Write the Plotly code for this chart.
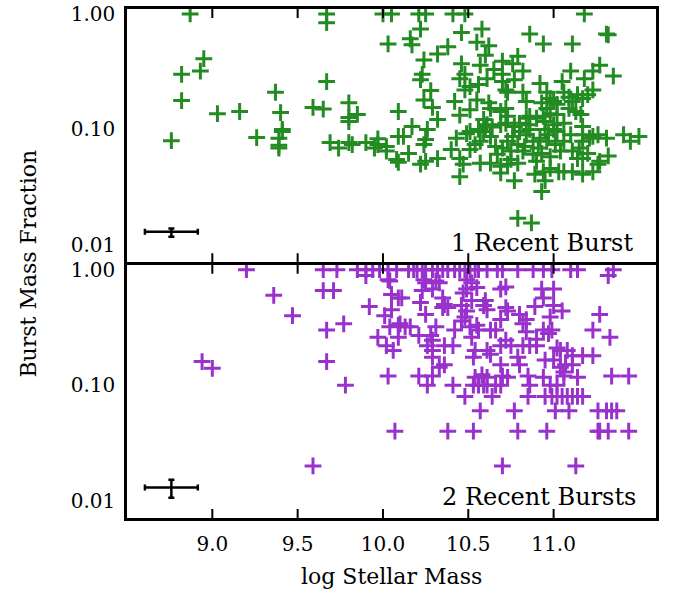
import math
import plotly.graph_objects as go

# ---------------- data ----------------
# Panel 1: galaxies with one recent burst
one_burst_mass = [
    8.87, 9.67, 9.67, 10.00, 10.05, 10.03, 8.95, 8.93, 8.82, 8.82,
    9.37, 9.67, 9.03, 9.16, 9.40, 9.59, 9.65, 9.80, 9.80, 9.85,
    10.09, 9.41, 8.76, 9.26, 9.41, 9.39, 9.39, 9.39, 9.69, 9.74,
    9.80, 9.82, 9.90, 9.97, 9.97, 9.95, 10.02, 10.02, 10.08, 10.09,
    9.80, 10.21, 10.25, 10.41, 10.48, 11.18, 10.22, 10.16, 10.17, 10.46,
    10.58, 10.55, 10.62, 10.86, 10.94, 11.11, 11.31, 11.32, 10.32, 10.38,
    10.60, 10.24, 10.46, 10.57, 10.70, 10.76, 10.79, 10.65, 10.82, 10.23,
    10.22, 10.48, 10.45, 10.51, 10.48, 10.56, 10.61, 10.70, 10.70, 10.77,
    10.72, 10.73, 10.28, 10.24, 10.29, 10.42, 10.45, 10.51, 10.55, 10.62,
    10.63, 10.69, 10.72, 10.73, 10.82, 10.84, 10.92, 10.96, 10.98, 11.00,
    11.02, 11.05, 11.10, 11.06, 11.09, 11.11, 11.14, 11.17, 11.20, 11.23,
    11.18, 11.23, 11.27, 11.35, 10.93, 10.96, 10.98, 11.02, 10.94, 10.86,
    10.90, 11.09, 11.13, 11.16, 10.32, 10.17, 10.26, 10.59, 10.61, 10.69,
    10.72, 10.80, 10.84, 10.86, 10.95, 11.00, 11.06, 11.17, 10.12, 10.25,
    10.24, 10.09, 10.15, 10.22, 10.25, 10.32, 10.43, 10.49, 10.56, 10.60,
    10.64, 10.40, 10.45, 10.51, 10.54, 10.57, 10.59, 10.63, 10.47, 10.57,
    10.63, 10.69, 10.45, 10.67, 10.70, 10.73, 10.76, 10.79, 10.82, 10.84,
    10.86, 10.69, 10.73, 10.75, 10.77, 10.79, 10.88, 10.91, 10.88, 10.90,
    10.93, 10.96, 10.97, 11.00, 11.01, 10.89, 10.94, 10.98, 11.03, 10.93,
    10.95, 10.79, 10.87, 11.06, 11.10, 11.11, 11.15, 11.17, 11.17, 11.21,
    11.20, 11.17, 11.14, 11.06, 11.11, 11.17, 11.23, 11.26, 11.27, 11.32,
    11.23, 11.26, 11.31, 11.41, 11.45, 11.50, 11.02, 10.80, 10.83, 10.92,
    10.95, 11.04, 10.77, 10.66, 10.51, 10.75, 10.98,
]
one_burst_frac = [
    1.0, 1.0, 0.84, 1.0, 1.0, 0.55, 0.41, 0.32, 0.30, 0.178,
    0.21, 0.26, 0.137, 0.143, 0.14, 0.155, 0.15, 0.17, 0.127, 0.135,
    0.143, 0.10, 0.08, 0.085, 0.096, 0.084, 0.073, 0.069, 0.077, 0.069,
    0.077, 0.074, 0.077, 0.083, 0.074, 0.069, 0.071, 0.065, 0.055, 0.087,
    0.117, 1.0, 1.0, 1.0, 1.0, 1.0, 0.74, 0.61, 0.54, 0.69,
    0.74, 0.57, 0.53, 0.67, 0.55, 0.55, 0.67, 0.66, 0.45, 0.52,
    0.44, 0.40, 0.37, 0.36, 0.39, 0.37, 0.43, 0.33, 0.32, 0.30,
    0.27, 0.30, 0.275, 0.235, 0.22, 0.245, 0.275, 0.30, 0.26, 0.27,
    0.22, 0.21, 0.217, 0.18, 0.155, 0.175, 0.133, 0.148, 0.18, 0.17,
    0.152, 0.143, 0.152, 0.13, 0.21, 0.175, 0.25, 0.21, 0.185, 0.175,
    0.165, 0.26, 0.32, 0.21, 0.19, 0.175, 0.20, 0.185, 0.20, 0.22,
    0.275, 0.32, 0.36, 0.29, 0.17, 0.152, 0.137, 0.135, 0.13, 0.13,
    0.125, 0.152, 0.143, 0.135, 0.122, 0.106, 0.10, 0.122, 0.11, 0.11,
    0.113, 0.113, 0.125, 0.11, 0.117, 0.11, 0.113, 0.106, 0.087, 0.082,
    0.074, 0.052, 0.062, 0.050, 0.053, 0.056, 0.084, 0.092, 0.10, 0.106,
    0.105, 0.067, 0.056, 0.067, 0.074, 0.079, 0.096, 0.087, 0.050, 0.051,
    0.051, 0.048, 0.039, 0.061, 0.069, 0.079, 0.087, 0.074, 0.065, 0.09,
    0.10, 0.042, 0.050, 0.055, 0.036, 0.051, 0.079, 0.069, 0.061, 0.053,
    0.062, 0.079, 0.09, 0.10, 0.074, 0.041, 0.043, 0.046, 0.043, 0.029,
    0.036, 0.017, 0.0155, 0.079, 0.09, 0.065, 0.069, 0.079, 0.09, 0.084,
    0.062, 0.056, 0.056, 0.043, 0.043, 0.041, 0.043, 0.050, 0.053, 0.059,
    0.087, 0.09, 0.084, 0.09, 0.079, 0.087, 0.096, 0.096, 0.071, 0.084,
    0.10, 0.065, 0.106, 0.071, 0.096, 0.065, 0.058,
]

# Panel 2: galaxies with two recent bursts
two_burst_mass = [
    9.20, 9.65, 9.73, 9.85, 9.90, 9.90, 9.94, 9.98, 10.03, 10.08,
    10.03, 9.65, 9.71, 9.36, 10.05, 10.09, 9.92, 10.05, 10.01, 9.47,
    9.77, 9.67, 10.04, 10.09, 9.97, 10.09, 10.02, 10.06, 8.94, 9.00,
    9.67, 10.03, 9.78, 10.07, 9.59,
    10.15, 10.18, 10.20, 10.23, 10.25, 10.29, 10.32, 10.35, 10.38, 10.42,
    10.45, 10.48, 10.51, 10.54, 10.56, 10.61, 10.67, 10.70, 10.79, 10.88,
    10.94, 10.99, 11.10, 11.14, 11.35,
    11.32, 10.24, 10.25, 10.31, 10.33, 10.49, 10.52, 10.49, 10.55, 10.04,
    10.23, 10.29, 10.47, 10.69, 10.72, 10.93, 11.00, 10.94, 10.11, 10.22,
    10.25, 10.35, 10.36, 10.35, 10.38, 10.46, 10.49, 10.52, 10.60, 10.61,
    10.59, 10.72, 10.73, 10.69, 10.89, 11.00, 11.05, 11.27, 10.46, 10.48,
    10.80, 10.84, 10.82, 10.98, 10.10, 10.13, 10.16, 10.31, 10.42, 10.51,
    10.55, 10.56, 10.52, 10.63, 10.66, 10.94, 10.99, 10.84, 10.90, 10.97,
    11.23, 11.33, 10.21, 10.28, 10.29, 10.26, 10.29, 10.36, 10.41, 10.54,
    10.61, 10.63, 10.69, 10.72, 10.75, 10.82, 10.86, 10.90, 11.02, 11.04,
    11.08, 11.11, 11.17, 11.23, 10.29, 10.36, 10.33, 10.53, 10.69, 10.79,
    10.80, 10.95, 11.00, 11.04, 11.07, 11.11, 11.06, 10.21, 10.29, 10.54,
    10.58, 10.61, 10.70, 10.73, 10.85, 10.94, 11.06, 11.14, 11.34, 11.44,
    10.26, 10.41, 10.53, 10.56, 10.59, 10.61, 10.66, 10.69, 10.86, 10.98, 11.02,
    10.48, 10.64, 10.85, 10.95, 10.99, 11.02, 11.05, 11.08, 11.11, 11.14, 11.17,
    10.57, 10.77, 11.01, 11.09, 11.26, 11.31, 11.34, 11.37,
    10.38, 10.53, 10.79, 10.96, 11.26, 11.27, 11.32, 11.44,
    10.70, 11.13,
]
two_burst_frac = [
    1.0, 1.0, 1.0, 1.0, 1.0, 0.89, 1.0, 1.0, 1.0, 1.0,
    0.82, 0.66, 0.66, 0.60, 0.61, 0.57, 0.48, 0.45, 0.40, 0.40,
    0.34, 0.30, 0.32, 0.33, 0.26, 0.26, 0.22, 0.20, 0.16, 0.14,
    0.16, 0.12, 0.10, 0.04, 0.02,
    1.0, 1.0, 1.0, 1.0, 1.0, 1.0, 1.0, 1.0, 1.0, 1.0,
    1.0, 1.0, 1.0, 1.0, 1.0, 1.0, 1.0, 1.0, 1.0, 1.0,
    1.0, 1.0, 1.0, 1.0, 1.0,
    0.89, 0.82, 0.77, 0.80, 0.77, 0.82, 0.77, 0.68, 0.70, 0.80,
    0.66, 0.68, 0.63, 0.68, 0.71, 0.68, 0.68, 0.57, 0.57, 0.52,
    0.41, 0.57, 0.50, 0.47, 0.47, 0.49, 0.44, 0.54, 0.54, 0.45,
    0.49, 0.47, 0.44, 0.37, 0.48, 0.49, 0.44, 0.41, 0.36, 0.39,
    0.41, 0.37, 0.34, 0.39, 0.34, 0.32, 0.32, 0.32, 0.30, 0.32,
    0.33, 0.30, 0.26, 0.30, 0.30, 0.30, 0.30, 0.29, 0.25, 0.28,
    0.30, 0.26, 0.27, 0.27, 0.245, 0.22, 0.20, 0.22, 0.22, 0.20,
    0.20, 0.185, 0.22, 0.245, 0.22, 0.22, 0.22, 0.22, 0.21, 0.20,
    0.20, 0.18, 0.18, 0.18, 0.175, 0.15, 0.143, 0.175, 0.15, 0.175,
    0.15, 0.165, 0.165, 0.143, 0.15, 0.15, 0.13, 0.12, 0.12, 0.117,
    0.123, 0.117, 0.12, 0.117, 0.12, 0.117, 0.12, 0.117, 0.12, 0.12,
    0.10, 0.10, 0.10, 0.10, 0.10, 0.10, 0.10, 0.10, 0.10, 0.10, 0.10,
    0.08, 0.08, 0.08, 0.08, 0.08, 0.08, 0.08, 0.08, 0.08, 0.08, 0.08,
    0.06, 0.06, 0.06, 0.06, 0.06, 0.06, 0.06, 0.06,
    0.04, 0.04, 0.04, 0.04, 0.04, 0.04, 0.04, 0.04,
    0.02, 0.02,
]

# Typical uncertainty (error-bar symbol in lower-left corner of each panel)
err_mass = [8.76]
err_frac = [0.013]
err_mass_sigma = [0.155]
err_frac_plus = [0.0009, 0.0022]
err_frac_minus = [0.0012, 0.0024]

panel_labels = ["1 Recent Burst", "2 Recent Bursts"]
x_ticks = [9.0, 9.5, 10.0, 10.5, 11.0]
x_tick_text = ["9.0", "9.5", "10.0", "10.5", "11.0"]
y_ticks = [0.01, 0.1, 1.0]
y_tick_text = ["0.01", "0.10", "1.00"]
y_minor_ticks = [0.02, 0.03, 0.04, 0.05, 0.06, 0.07, 0.08, 0.09,
                 0.2, 0.3, 0.4, 0.5, 0.6, 0.7, 0.8, 0.9]

GREEN = "#228B22"
PURPLE = "#9932CC"
INK = "#000000"
FONT = "DejaVu Serif"
X_RANGE = [8.5, 11.6]
Y_RANGE = [-2.15, 0.043]

W, H = 675, 594
M_L, M_R, M_T, M_B = 127, 19, 9, 76
LW = 2.5
plot_w = W - M_L - M_R
plot_h = H - M_T - M_B
gap = LW / plot_h           # panels' touching frame lines coincide
top_dom = [0.5 + gap / 2, 1.0]
bot_dom = [0.0, 0.5 - gap / 2]
panel_h = plot_h * (0.5 - gap / 2)
MAJOR_LEN, MINOR_LEN, TICK_W = 9, 5, 2

fig = go.Figure()

# top panel -> x / y ; bottom panel -> x2 / y2
fig.add_trace(go.Scatter(
    x=one_burst_mass, y=one_burst_frac, xaxis="x", yaxis="y", mode="markers",
    marker=dict(symbol="cross-thin-open", size=12, color=GREEN,
                line=dict(width=3, color=GREEN)),
    showlegend=False))
fig.add_trace(go.Scatter(
    x=two_burst_mass, y=two_burst_frac, xaxis="x2", yaxis="y2", mode="markers",
    marker=dict(symbol="cross-thin-open", size=12, color=PURPLE,
                line=dict(width=3, color=PURPLE)),
    showlegend=False))

for i, (xa, ya) in enumerate([("x", "y"), ("x2", "y2")]):
    fig.add_trace(go.Scatter(
        x=err_mass, y=err_frac, xaxis=xa, yaxis=ya, mode="markers",
        marker=dict(size=1, color=INK),
        error_x=dict(type="data", array=err_mass_sigma, color=INK,
                     thickness=2.5, width=3),
        error_y=dict(type="data", array=[err_frac_plus[i]],
                     arrayminus=[err_frac_minus[i]],
                     color=INK, thickness=2.5, width=3),
        showlegend=False))

common = dict(showline=True, linecolor=INK, linewidth=LW, mirror=True,
              ticks="", showgrid=False, zeroline=False,
              tickfont=dict(family=FONT, size=20, color=INK))

fig.update_layout(
    template="none",
    width=W, height=H,
    margin=dict(l=M_L, r=M_R, t=M_T, b=M_B),
    paper_bgcolor="white", plot_bgcolor="white",
    font=dict(family=FONT, color=INK),
    xaxis=dict(domain=[0, 1], anchor="y", range=X_RANGE, tickvals=x_ticks,
               ticktext=x_tick_text, showticklabels=False, **common),
    xaxis2=dict(domain=[0, 1], anchor="y2", range=X_RANGE, tickvals=x_ticks,
                ticktext=x_tick_text, ticklabelstandoff=6, **common),
    yaxis=dict(domain=top_dom, anchor="x", type="log", range=Y_RANGE,
               tickvals=y_ticks, ticktext=y_tick_text, ticklabelstandoff=5, **common),
    yaxis2=dict(domain=bot_dom, anchor="x2", type="log", range=Y_RANGE,
                tickvals=y_ticks, ticktext=y_tick_text, ticklabelstandoff=5, **common),
)

# inward tick marks on all four sides of each panel, placed at the tick values
tick_line = dict(color=INK, width=TICK_W)
for xr, yr in [("x", "y"), ("x2", "y2")]:
    fx = MAJOR_LEN / panel_h
    for v in x_ticks:
        fig.add_shape(type="line", xref=xr, yref=yr + " domain",
                      x0=v, x1=v, y0=0, y1=fx, line=tick_line)
        fig.add_shape(type="line", xref=xr, yref=yr + " domain",
                      x0=v, x1=v, y0=1 - fx, y1=1, line=tick_line)
    for vals, length in [(y_ticks, MAJOR_LEN + 1), (y_minor_ticks, MINOR_LEN)]:
        fy = length / plot_w
        for v in vals:
            lv = math.log10(v)
            fig.add_shape(type="line", xref=xr + " domain", yref=yr,
                          x0=0, x1=fy, y0=lv, y1=lv, line=tick_line)
            fig.add_shape(type="line", xref=xr + " domain", yref=yr,
                          x0=1 - fy, x1=1, y0=lv, y1=lv, line=tick_line)

fig.add_annotation(text=panel_labels[0], xref="paper", yref="paper", x=0.96, y=0.541,
                   xanchor="right", yanchor="middle", showarrow=False,
                   font=dict(family=FONT, size=24, color=INK))
fig.add_annotation(text=panel_labels[1], xref="paper", yref="paper", x=0.966, y=0.041,
                   xanchor="right", yanchor="middle", showarrow=False,
                   font=dict(family=FONT, size=24, color=INK))
fig.add_annotation(text="Burst Mass Fraction", xref="paper", yref="paper",
                   x=-0.187, y=0.5, xanchor="center", yanchor="middle",
                   textangle=-90, showarrow=False,
                   font=dict(family=FONT, size=22, color=INK))
fig.add_annotation(text="log Stellar Mass", xref="paper", yref="paper",
                   x=0.5, y=-0.115, xanchor="center", yanchor="middle",
                   showarrow=False, font=dict(family=FONT, size=22, color=INK))

fig.write_html("out.html")
